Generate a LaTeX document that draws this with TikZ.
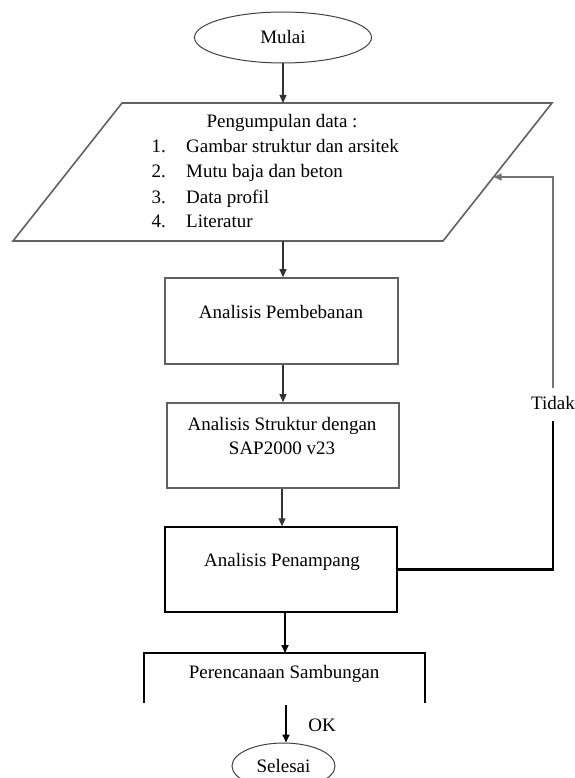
\documentclass[tikz,border=0pt]{standalone}
\usepackage{fontspec}
\setmainfont{Liberation Serif}
\usetikzlibrary{arrows.meta,shapes.geometric,calc}
\begin{document}
\begin{tikzpicture}[x=1pt,y=-1pt,
  txt/.style={font=\fontsize{19}{24}\selectfont, inner sep=0pt},
  gbox/.style={draw=black!62, line width=1.6pt, inner sep=0pt},
  kbox/.style={draw=black, line width=1.5pt, inner sep=0pt},
  term/.style={ellipse, draw=black!75, line width=1pt, inner sep=0pt, font=\fontsize{19}{24}\selectfont},
  arr/.style={-{Triangle[length=8pt,width=7pt]}, line width=1.1pt, draw=black!80},
  thickarr/.style={-{Triangle[length=8pt,width=7pt]}, line width=1.9pt, draw=black},
  fbthin/.style={line width=1.3pt, draw=black!55},
  fbthick/.style={line width=2.1pt, draw=black},
]
\useasboundingbox (0,0) rectangle (574,778);
\clip (0,0) rectangle (574,778);

% start
\node[term, minimum width=177pt, minimum height=51pt] (mulai) at (283,37.5) {Mulai};

% data input parallelogram
\coordinate (p1) at (122,103);
\coordinate (p2) at (552,103);
\coordinate (p3) at (443,241);
\coordinate (p4) at (13,241);
\draw[gbox] (p1) -- (p2) -- (p3) -- (p4) -- cycle;
\coordinate (pt) at (283,103);
\coordinate (pb) at (283,241);
\coordinate (fe) at ($(p3)!0.4638!(p2)$);

\node[txt, anchor=base] (hd) at (282,128) {Pengumpulan data :};
\node[txt, anchor=base east] (n1) at (166,153) {1.};
\node[txt, anchor=base west] (l1) at (186,153) {Gambar struktur dan arsitek};
\node[txt, anchor=base east] (n2) at (166,178) {2.};
\node[txt, anchor=base west] (l2) at (186,178) {Mutu baja dan beton};
\node[txt, anchor=base east] (n3) at (166,203) {3.};
\node[txt, anchor=base west] (l3) at (186,203) {Data profil};
\node[txt, anchor=base east] (n4) at (166,227) {4.};
\node[txt, anchor=base west] (l4) at (186,227) {Literatur};

% box 1
\node[gbox, minimum width=233pt, minimum height=86pt] (b1) at (281.5,321) {};
\node[txt, anchor=base] (b1t) at (281,318) {Analisis Pembebanan};

% box 2
\node[gbox, minimum width=232pt, minimum height=85pt] (b2) at (283,445.5) {};
\node[txt, anchor=base] (b2a) at (282,430) {Analisis Struktur dengan};
\node[txt, anchor=base] (b2b) at (282,454) {SAP2000 v23};

% box 3
\node[kbox, minimum width=232pt, minimum height=85pt] (b3) at (281,569.5) {};
\node[txt, anchor=base] (b3t) at (282,566) {Analisis Penampang};

% box 4 (open at the bottom)
\coordinate (q1) at (144,703);
\coordinate (q2) at (144,653);
\coordinate (q3) at (425,653);
\coordinate (q4) at (425,703);
\draw[kbox] (q1) -- (q2) -- (q3) -- (q4);
\coordinate (qt) at (285,653);
\coordinate (qb) at (286,705);
\node[txt, anchor=base] (b4t) at (284,678) {Perencanaan Sambungan};

% end
\node[term, minimum width=103pt, minimum height=46pt] (selesai) at (283.5,766) {Selesai};
\node[txt] (ok) at (322,725) {OK};

% main flow
\draw[arr] (mulai.south) -- (pt);
\draw[arr] (pb) -- (pb |- b1.north);
\draw[arr] (b1.south -| pb) -- (pb |- b2.north);
\draw[arr] (b2.south -| b2a) -- (b2a |- b3.north);
\draw[thickarr] (qt |- b3.south) -- (qt);
\draw[thickarr] (qb) -- (qb |- selesai.north);

% feedback loop
\node[txt] (tidak) at (553,403) {Tidak};
\coordinate (fr) at ([yshift=-11pt]tidak.south);
\coordinate (fu) at ([yshift=8pt]tidak.north);
\draw[fbthick] (b3.east) -| (fr);
\draw[fbthin, -{Triangle[length=8pt,width=7pt]}] (fu) |- (fe);
\end{tikzpicture}
\end{document}
